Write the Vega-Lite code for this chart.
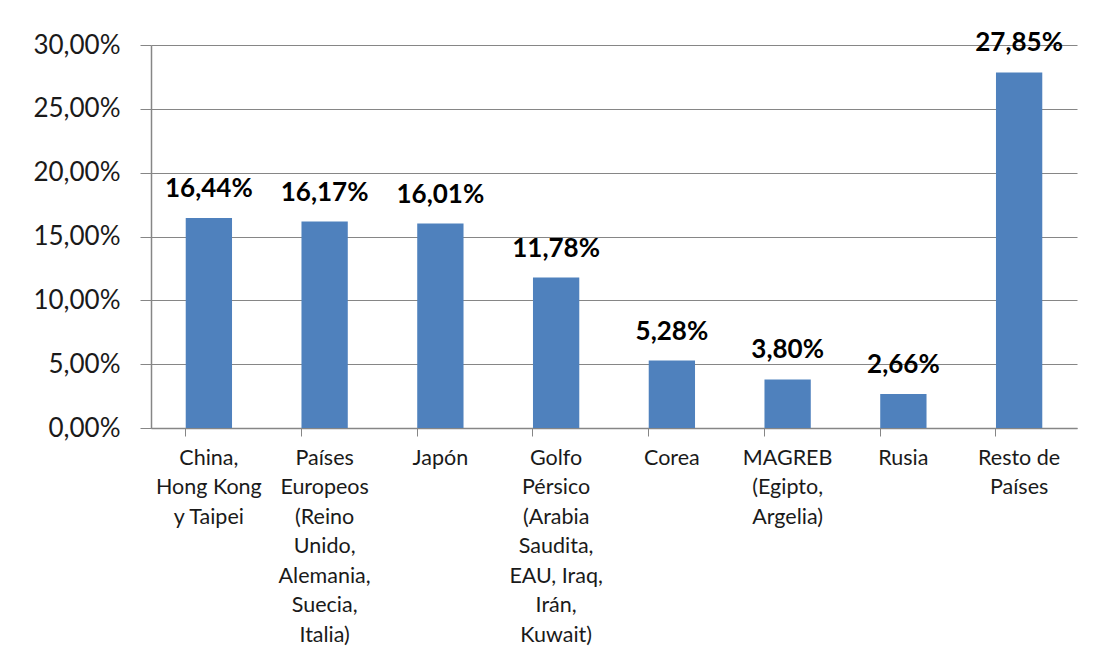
{
  "$schema": "https://vega.github.io/schema/vega-lite/v6.json",
  "autosize": "none",
  "width": 926,
  "height": 383,
  "padding": {"left": 151, "top": 45, "right": 20, "bottom": 238},
  "background": "white",
  "config": {
    "locale": {"number": {"decimal": ",", "thousands": ".", "grouping": [3], "currency": ["", " €"]}},
    "view": {"stroke": null},
    "font": "Lato"
  },
  "data": {
    "values": [
      {"region": "China,\nHong Kong\ny Taipei", "share": 0.1644},
      {"region": "Países\nEuropeos\n(Reino\nUnido,\nAlemania,\nSuecia,\nItalia)", "share": 0.1617},
      {"region": "Japón", "share": 0.1601},
      {"region": "Golfo\nPérsico\n(Arabia\nSaudita,\nEAU, Iraq,\nIrán,\nKuwait)", "share": 0.1178},
      {"region": "Corea", "share": 0.0528},
      {"region": "MAGREB\n(Egipto,\nArgelia)", "share": 0.038},
      {"region": "Rusia", "share": 0.0266},
      {"region": "Resto de\nPaíses", "share": 0.2785}
    ]
  },
  "encoding": {
    "x": {
      "field": "region", "type": "nominal", "sort": null,
      "scale": {"paddingInner": 0.6, "paddingOuter": 0.3},
      "axis": {
        "title": null, "labelAngle": 0, "labelExpr": "split(datum.value, '\\n')",
        "labelFont": "Lato", "labelFontSize": 21.5, "labelColor": "#1a1a1a",
        "labelLineHeight": 29.5, "labelPadding": 11, "labelBaseline": "top",
        "tickSize": 8, "tickColor": "#868686", "bandPosition": 0,
        "domainColor": "#868686", "domainWidth": 1.5, "grid": false
      }
    },
    "y": {
      "field": "share", "type": "quantitative",
      "scale": {"domain": [0, 0.3]},
      "axis": {
        "title": null, "format": ".2%", "values": [0, 0.05, 0.1, 0.15, 0.2, 0.25, 0.3],
        "labelFont": "Lato", "labelFontSize": 26, "labelColor": "#1a1a1a",
        "labelPadding": 20, "tickSize": 11, "tickColor": "#868686",
        "domainColor": "#868686", "domainWidth": 1.5,
        "grid": true, "gridColor": "#868686", "gridWidth": 1.2
      }
    }
  },
  "layer": [
    {"mark": {"type": "bar", "color": "#4F81BD"}},
    {
      "mark": {"type": "text", "fontWeight": "bold", "fontSize": 26, "font": "Lato", "baseline": "alphabetic", "dy": -21, "color": "#000000"},
      "encoding": {"text": {"field": "share", "type": "quantitative", "format": ".2%"}}
    }
  ]
}
